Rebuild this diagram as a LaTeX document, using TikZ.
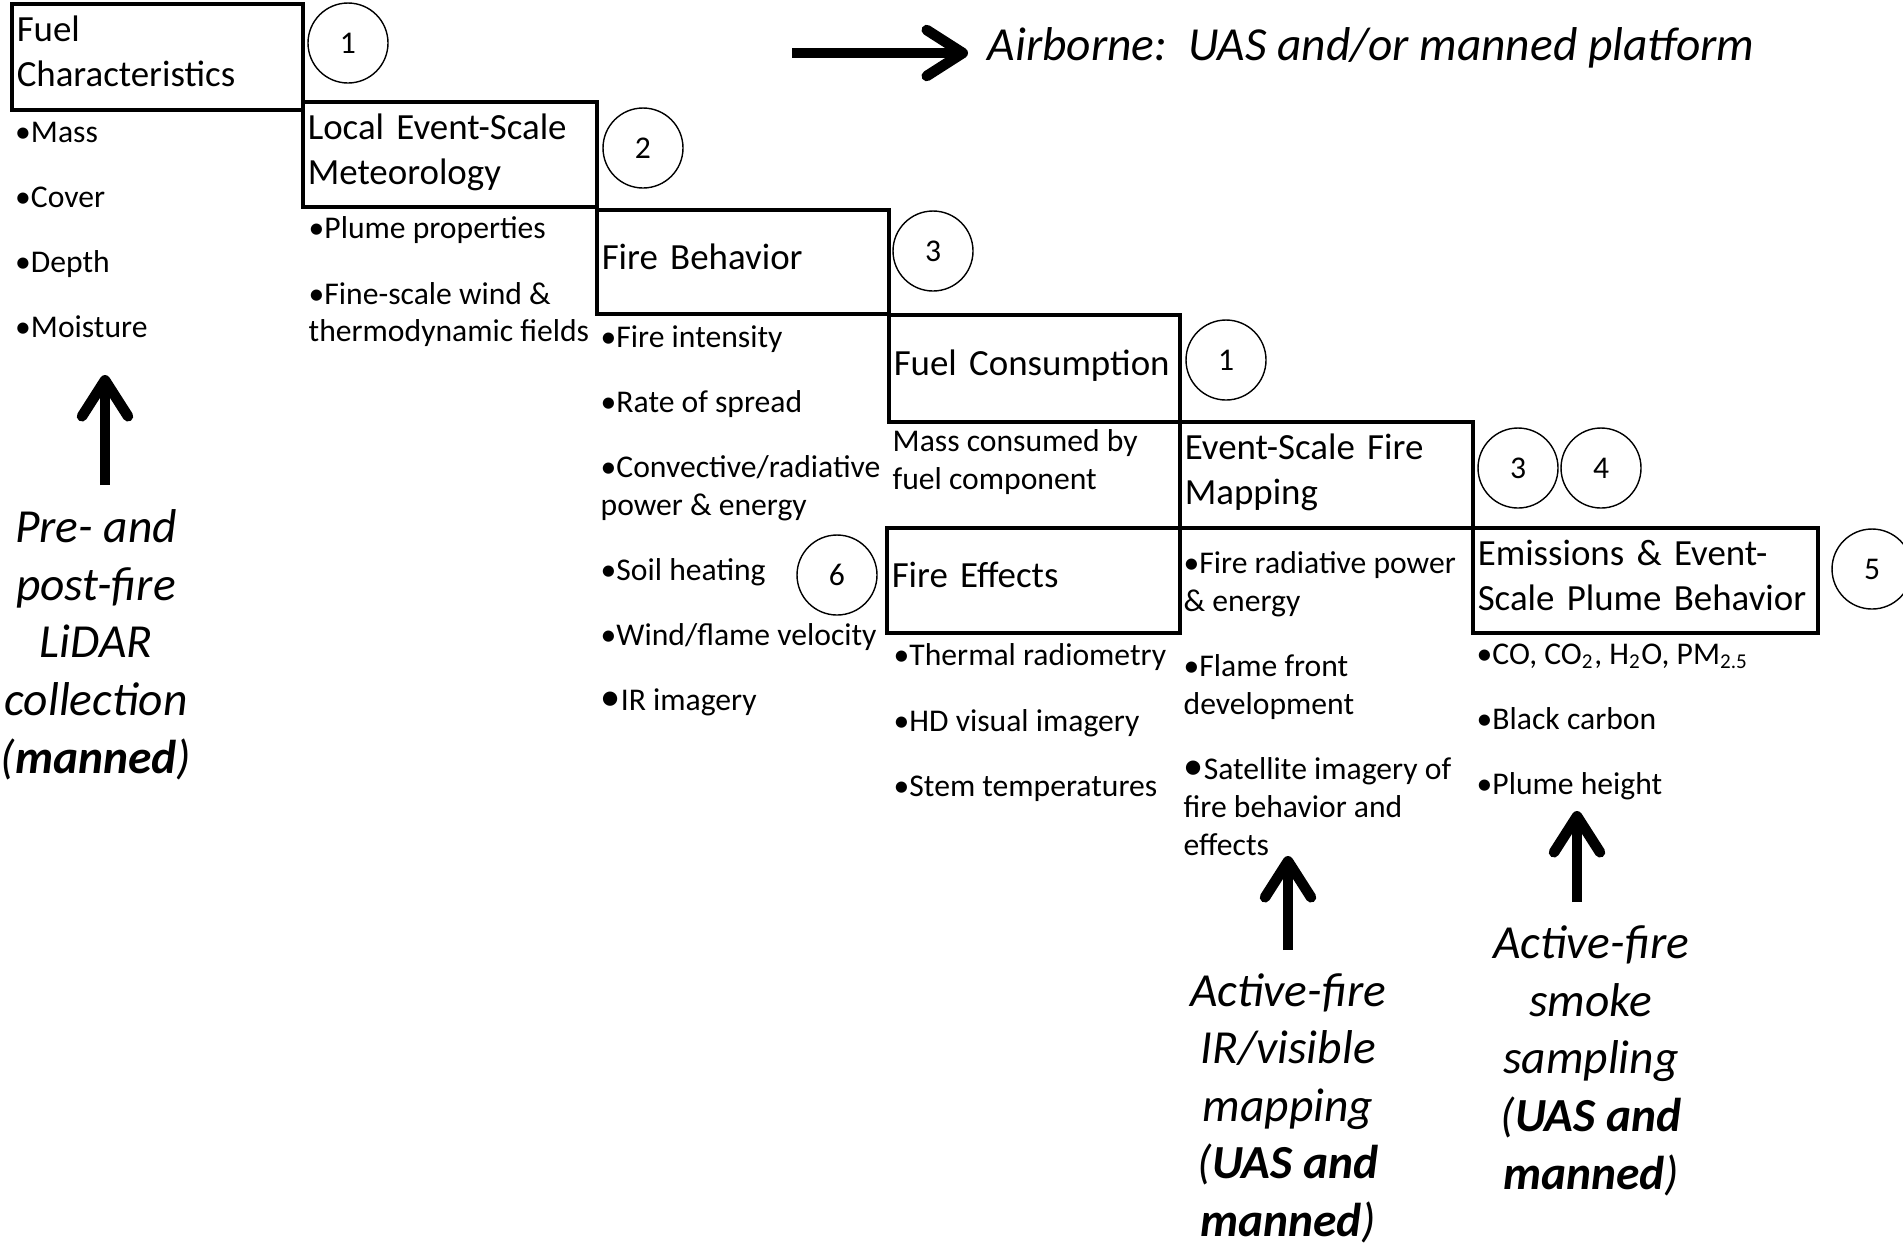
\documentclass[tikz,border=0pt]{standalone}
\usepackage{fontspec}
\setmainfont{Carlito}
\usetikzlibrary{arrows.meta}

\newcommand{\titlesize}{\fontsize{10.5}{12.8}\selectfont}
\newcommand{\listsize}{\fontsize{9}{10.8}\selectfont}
\newcommand{\notesize}{\fontsize{13.5}{16.4}\selectfont}
\newcommand{\bigbul}{{\fontsize{11.5}{10}\selectfont •}}
\newlength{\itemgap}\setlength{\itemgap}{7.7pt}

\begin{document}
\begin{tikzpicture}[x=1cm, y=-1cm]
\tikzset{ stagebox/.style={draw, line width=1pt, align=left, anchor=north west, inner xsep=0.05cm, inner ysep=0pt, font=\titlesize, execute at end node={\rule[-3pt]{0pt}{0pt}}},
  numcirc/.style={draw, thin, circle, minimum size=0.8cm, inner sep=0pt, font=\listsize},
  bullets/.style={anchor=north west, align=left, inner sep=0pt, font=\listsize, execute at begin node={\strut}},
  platform/.style={align=center, anchor=north, inner sep=0pt, font=\notesize\itshape, execute at begin node={\strut}},
  probe/.style={line width=3pt, -{Straight Barb[length=3.6mm, width=4.6mm, round]}} }

\useasboundingbox (0,0) rectangle (19.03,12.46);

%\draw [lightgray, dashed](0,0) grid (19,12);

% stages
\node [stagebox, text width=2.81cm, minimum height=1.06cm] (fuelchar) at (0.10,0.02) {Fuel\\Characteristics};
\node [stagebox, text width=2.84cm, minimum height=1.05cm] (localmet) at (3.01,1.00) {Local Event-Scale\\Meteorology};
\node [stagebox, text width=2.82cm, minimum height=1.04cm] (firebeh)  at (5.95,2.08) {Fire Behavior};
\node [stagebox, text width=2.81cm, minimum height=1.07cm] (fuelcons) at (8.87,3.13) {Fuel Consumption};
\node [stagebox, text width=2.83cm, minimum height=1.06cm] (firemap)  at (11.78,4.20) {Event-Scale Fire\\Mapping};
\node [stagebox, text width=2.83cm, minimum height=1.05cm] (fireeff)  at (8.85,5.26) {Fire Effects};
\node [stagebox, text width=3.35cm, minimum height=1.05cm] (emis)     at (14.71,5.26) {Emissions \& Event-\\Scale Plume Behavior};

% numbers
\node [numcirc] (n1a) at (3.48,0.43) {1};
\node [numcirc] (n2)  at (6.43,1.48) {2};
\node [numcirc] (n3a) at (9.33,2.51) {3};
\node [numcirc] (n1b) at (12.26,3.60) {1};
\node [numcirc] (n3b) at (15.18,4.68) {3};
\node [numcirc] (n4)  at (16.01,4.68) {4};
\node [numcirc] (n5)  at (18.72,5.69) {5};
\node [numcirc] (n6)  at (8.37,5.75) {6};

% lists
\node [bullets] (fuellist) at (0.145,1.213) {•Mass\\[\itemgap]•Cover\\[\itemgap]•Depth\\[\itemgap]•Moisture};
\node [bullets] (metlist) at (3.08,2.163) {•Plume properties\\[\itemgap]•Fine-scale wind \&\\thermodynamic fields};
\node [bullets] (behlist) at (6.00,3.253) {•Fire intensity\\[\itemgap]•Rate of spread\\[\itemgap]•Convective/radiative\\power \& energy\\[\itemgap]•Soil heating\\[\itemgap]•Wind/flame velocity\\[\itemgap]\bigbul IR imagery};
\node [bullets] (conslist) at (8.92,4.293) {Mass consumed by\\fuel component};
\node [bullets] (efflist) at (8.93,6.433) {•Thermal radiometry\\[\itemgap]•HD visual imagery\\[\itemgap]•Stem temperatures};
\node [bullets] (maplist) at (11.83,5.513) {•Fire radiative power\\\& energy\\[\itemgap]•Flame front\\development\\[\itemgap]\bigbul Satellite imagery of\\fire behavior and\\effects};
\node [bullets] (emislist) at (14.76,6.433) {•CO, CO\textsubscript{2}, H\textsubscript{2}O, PM\textsubscript{2.5}\\[\itemgap]•Black carbon\\[\itemgap]•Plume height};

% platforms
\node [anchor=base west, inner sep=0pt, font=\notesize\itshape] (airborne) at (9.87,0.60) {Airborne:\ \ UAS and/or manned platform};
\node [platform] (lidar) at (0.96,5.09) {Pre- and\\post-fire\\LiDAR\\collection\\(\textbf{manned})};
\node [platform] (irmap) at (12.88,9.725) {Active-fire\\IR/visible\\mapping\\(\textbf{UAS and}\\\textbf{manned})};
\node [platform] (smoke) at (15.91,9.25) {Active-fire\\smoke\\sampling\\(\textbf{UAS and}\\\textbf{manned})};

\coordinate (airTail) at (7.92,0.53);
\coordinate (airTip) at (9.68,0.53);
\coordinate (lidarTail) at (1.05,4.85);
\coordinate (lidarTip) at (1.05,3.75);
\coordinate (irTail) at (12.88,9.50);
\coordinate (irTip) at (12.88,8.56);
\coordinate (smokeTail) at (15.77,9.02);
\coordinate (smokeTip) at (15.77,8.11);

\draw [probe] (airTail) -- (airTip);
\draw [probe] (lidarTail) -- (lidarTip);
\draw [probe] (irTail) -- (irTip);
\draw [probe] (smokeTail) -- (smokeTip);
\end{tikzpicture}
\end{document}
